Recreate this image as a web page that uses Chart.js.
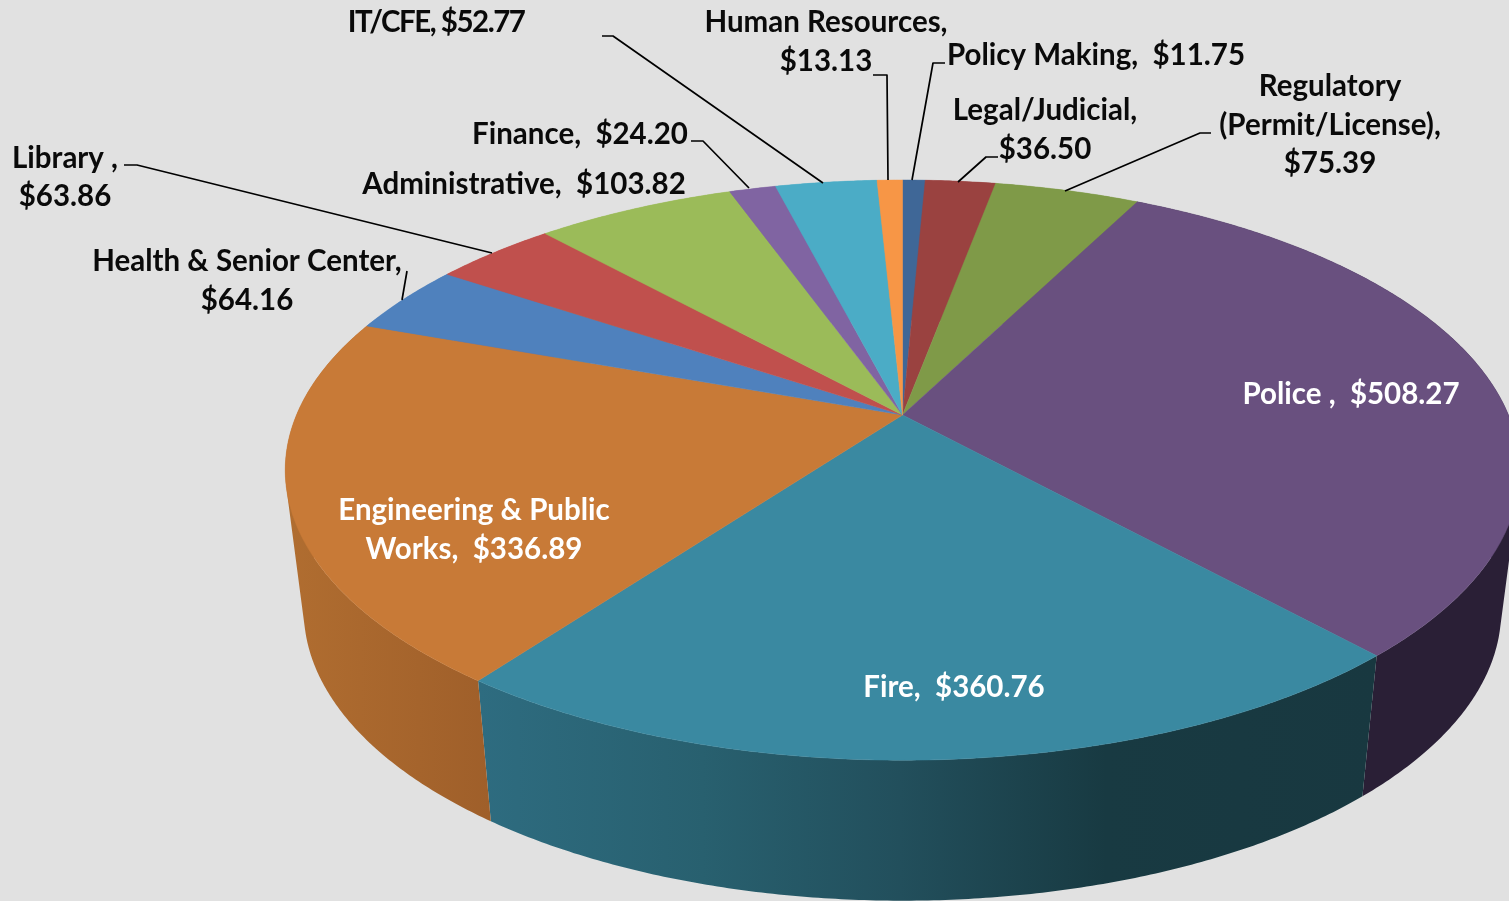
<!DOCTYPE html>
<html><head><meta charset="utf-8">
<style>html,body{margin:0;padding:0;background:#e1e1e1;overflow:hidden}canvas{display:block}</style>
<script src="https://cdn.jsdelivr.net/npm/chart.js@4/dist/chart.umd.min.js"></script>
</head><body><canvas id="c" width="1509" height="901"></canvas>
<script>
const categories = ["Policy Making","Legal/Judicial","Regulatory (Permit/License)","Police","Fire","Engineering & Public Works","Health & Senior Center","Library","Administrative","Finance","IT/CFE","Human Resources"];
const values = [11.75,36.50,75.39,508.27,360.76,336.89,64.16,63.86,103.82,24.20,52.77,13.13];
const colors = ["#3f6797","#9a4240","#7f9a48","#69507f","#3a89a1","#c87a37","#4f81bd","#c0504d","#9bbb59","#8064a2","#4bacc6","#f79646"];
const sideStops = {3:[[0,"#2a1f36"],[1,"#2a1f36"]],4:[[0,"#2e6c80"],[0.25,"#28606f"],[0.47,"#224f5c"],[0.7,"#183a42"],[1,"#183840"]],5:[[0,"#b06d30"],[1,"#9f5f2a"]]};
const sideRange = {3:[1360,1509],4:[479,1375],5:[290,490]};
const labelTexts = [
 {t:["IT/CFE, $52.77"],x:436,y:[22],sp:"-1.5px"},
 {t:["Human Resources,","$13.13"],x:826,y:[22,61]},
 {t:["Policy Making,  $11.75"],x:1096,y:[55]},
 {t:["Regulatory","(Permit/License),","$75.39"],x:1330,y:[86,125,163]},
 {t:["Legal/Judicial,","$36.50"],x:1045,y:[110,149]},
 {t:["Finance,  $24.20"],x:580,y:[134]},
 {t:["Administrative,  $103.82"],x:524,y:[184]},
 {t:["Library ,","$63.86"],x:65,y:[158,196]},
 {t:["Health & Senior Center,","$64.16"],x:247,y:[261,300]},
 {t:["Police ,  $508.27"],x:1351,y:[394],c:"#fff"},
 {t:["Engineering & Public","Works,  $336.89"],x:474,y:[510,549],c:"#fff"},
 {t:["Fire,  $360.76"],x:954,y:[687],c:"#fff"}
];
const leaders = [
 [[602,36],[613,36],[823,183]],
 [[691,141],[703,141],[749,188]],
 [[873,75],[887,75],[888,180]],
 [[945,63],[933,63],[912,180]],
 [[998,157],[986,157],[958,182]],
 [[1211,133],[1200,133],[1065,191]],
 [[124,165],[137,165],[492,253]],
 [[407,271],[402,300]]
];
const proj = {cx:902.5,cy:415,A:606,B:279.6,k:-0.19,depth:140.5,shrinkX:0.97,shrinkY:1};
function topPt(a){const u=Math.cos(a),v=Math.sin(a),d=1+proj.k*v;return [proj.cx+proj.A*u/d,proj.cy+proj.B*v/d];}
function bottomPt(a){const p=topPt(a);return [proj.cx+proj.shrinkX*(p[0]-proj.cx),proj.cy+proj.depth+proj.shrinkY*(p[1]-proj.cy)];}
function arcPts(f,s,e){const n=Math.max(2,Math.ceil((e-s)/0.008)),o=[];for(let i=0;i<=n;i++)o.push(f(s+(e-s)*i/n));return o;}
function addQuad(ctx,q){
 let area=0;
 q.forEach((p,i)=>{const r=q[(i+1)%4];area+=p[0]*r[1]-r[0]*p[1];});
 const o=area<0?q.slice().reverse():q;
 o.forEach((p,i)=>i?ctx.lineTo(p[0],p[1]):ctx.moveTo(p[0],p[1]));
 ctx.closePath();
}
const pie3d = {
 id:"pie3d",
 beforeDatasetDraw(chart){
  const ctx=chart.ctx,arcs=chart.getDatasetMeta(0).data;
  arcs.forEach((el,i)=>{
   const s=el.startAngle,e=el.endAngle,T=arcPts(topPt,s,e),B=arcPts(bottomPt,s,e);
   let fill=colors[i];
   if(sideStops[i]){const r=sideRange[i],g=ctx.createLinearGradient(r[0],0,r[1],0);sideStops[i].forEach(c=>g.addColorStop(c[0],c[1]));fill=g;}
   ctx.fillStyle=fill;
   ctx.beginPath();
   for(let j=0;j<T.length-1;j++)addQuad(ctx,[T[j],T[j+1],B[j+1],B[j]]);
   ctx.fill("nonzero");
  });
  arcs.forEach((el,i)=>{
   const T=arcPts(topPt,el.startAngle,el.endAngle);
   ctx.beginPath();ctx.moveTo(proj.cx,proj.cy);T.forEach(p=>ctx.lineTo(p[0],p[1]));ctx.closePath();
   ctx.fillStyle=colors[i];ctx.strokeStyle=colors[i];ctx.lineWidth=0.5;ctx.fill();ctx.stroke();
  });
  return false;
 },
 afterDatasetsDraw(chart){
  const ctx=chart.ctx;
  ctx.save();ctx.strokeStyle="#000";ctx.lineWidth=1.7;ctx.lineJoin="round";
  leaders.forEach(l=>{ctx.beginPath();l.forEach((p,j)=>j?ctx.lineTo(p[0],p[1]):ctx.moveTo(p[0],p[1]));ctx.stroke();});
  ctx.textAlign="center";ctx.textBaseline="middle";ctx.font='bold 29.5px Lato';
  labelTexts.forEach(l=>{ctx.fillStyle=l.c||"#0a0a0a";ctx.letterSpacing=l.sp||"0px";l.t.forEach((s,j)=>ctx.fillText(s,l.x,l.y[j]));});
  ctx.restore();
 }
};
new Chart(document.getElementById("c"),{
 type:"pie",
 data:{labels:categories,datasets:[{data:values,backgroundColor:colors,borderWidth:0}]},
 options:{responsive:false,animation:false,rotation:0,plugins:{legend:{display:false},tooltip:{enabled:false},title:{display:false}}},
 plugins:[pie3d]
});
</script></body></html>
